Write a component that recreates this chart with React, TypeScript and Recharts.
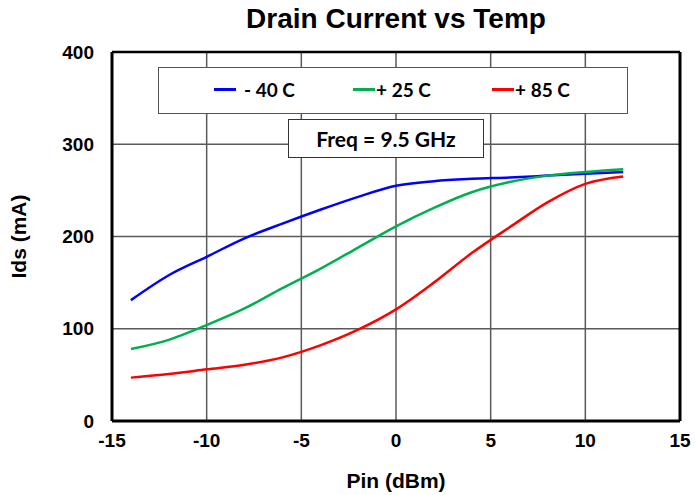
import React from 'react';
import { LineChart, Line, XAxis, YAxis, CartesianGrid, ReferenceLine, Label } from 'recharts';

const pin = [-14, -12, -10, -8, -6, -4, -2, 0, 2, 4, 6, 8, 10, 12];
const idsMinus40 = [131, 158, 178, 198, 214, 229, 243, 255, 260, 262.5, 264, 266, 268, 270];
const idsPlus25 = [78, 88, 104, 122, 144, 165, 188, 211, 231, 248, 259, 266, 270, 273];
const idsPlus85 = [47, 51, 56, 61, 69, 82, 99, 121, 150, 182, 210, 237, 257, 265];

const xTicks = [-15, -10, -5, 0, 5, 10, 15];
const yTicks = [0, 100, 200, 300, 400];

const SERIES = [
  { key: 'm40', label: '- 40 C', color: '#0000FF', values: idsMinus40 },
  { key: 'p25', label: '+ 25 C', color: '#00B050', values: idsPlus25 },
  { key: 'p85', label: '+ 85 C', color: '#FF0000', values: idsPlus85 },
];

const data = pin.map((x, i) => {
  const row: Record<string, number> = { pin: x };
  SERIES.forEach(s => { row[s.key] = s.values[i]; });
  return row;
});

const AXIS_FONT = '"Liberation Sans", Arial, sans-serif';
const BOX_FONT = 'Lato, "Open Sans", sans-serif';
const tickStyle = { fill: '#000', fontSize: 19, fontWeight: 700, fontFamily: AXIS_FONT };

export default function App() {
  return (
    <div style={{ position: 'absolute', top: 0, left: 0, width: 695, height: 495, background: '#fff' }}>
      <div style={{
        position: 'absolute', top: 3, left: 112, width: 568, textAlign: 'center',
        fontFamily: AXIS_FONT, fontWeight: 700, fontSize: 28, color: '#000',
      }}>
        Drain Current vs Temp
      </div>
      <LineChart width={695} height={495} data={data} margin={{ top: 52, right: 15, left: 52, bottom: 44 }}>
        <CartesianGrid stroke="#595959" strokeWidth={1.5} />
        <XAxis
          dataKey="pin"
          type="number"
          domain={[-15, 15]}
          ticks={xTicks}
          height={30}
          tickLine={false}
          tickSize={0}
          tickMargin={13}
          axisLine={{ stroke: '#000', strokeWidth: 3 }}
          tick={tickStyle}
        >
          <Label value="Pin (dBm)" position="insideBottom" offset={-37}
            style={{ fill: '#000', fontSize: 21, fontWeight: 700, fontFamily: AXIS_FONT }} />
        </XAxis>
        <YAxis
          type="number"
          domain={[0, 400]}
          ticks={yTicks}
          width={60}
          tickLine={false}
          tickSize={0}
          tickMargin={18}
          axisLine={{ stroke: '#000', strokeWidth: 3 }}
          tick={tickStyle}
        >
          <Label value="Ids (mA)" angle={-90} position="insideLeft" offset={-33}
            style={{ textAnchor: 'middle', fill: '#000', fontSize: 21, fontWeight: 700, fontFamily: AXIS_FONT }} />
        </YAxis>
        <ReferenceLine y={400} stroke="#000" strokeWidth={2.5} />
        <ReferenceLine x={15} stroke="#000" strokeWidth={3} />
        {SERIES.map(s => (
          <Line
            key={s.key}
            type="monotone"
            dataKey={s.key}
            name={s.label}
            stroke={s.color}
            strokeWidth={2.5}
            dot={false}
            isAnimationActive={false}
          />
        ))}
      </LineChart>
      <div style={{
        position: 'absolute', left: 158, top: 67, width: 470, height: 47, boxSizing: 'border-box',
        background: '#fff', border: '1.5px solid #555', fontFamily: BOX_FONT, fontWeight: 700,
        fontSize: 19, color: '#000',
      }}>
        {SERIES.map((s, i) => (
          <div key={s.key} style={{
            position: 'absolute', left: 55 + i * 139, top: 10, display: 'flex', alignItems: 'center', whiteSpace: 'nowrap',
          }}>
            <span style={{ display: 'inline-block', width: 22, height: 3, background: s.color, marginRight: i === 0 ? 8 : 1 }} />
            {s.label}
          </div>
        ))}
      </div>
      <div style={{
        position: 'absolute', left: 288, top: 119, width: 196, height: 39, boxSizing: 'border-box',
        background: '#fff', border: '1.5px solid #333', fontFamily: BOX_FONT, fontWeight: 700,
        fontSize: 21, color: '#000', display: 'flex', alignItems: 'center', justifyContent: 'center',
      }}>
        Freq = 9.5 GHz
      </div>
    </div>
  );
}
